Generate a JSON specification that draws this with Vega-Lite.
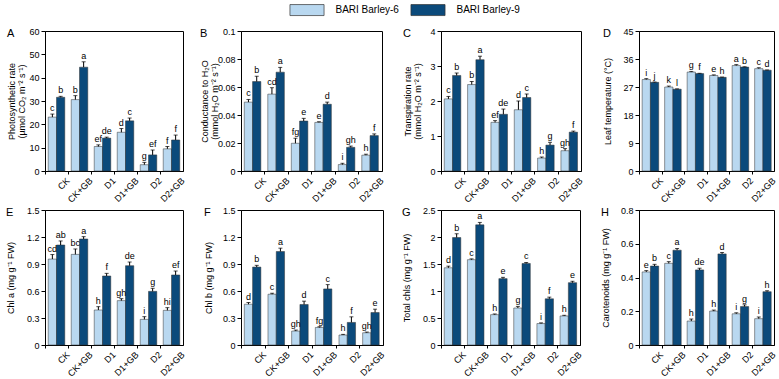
{
  "$schema": "https://vega.github.io/schema/vega-lite/v6.json",
  "background": "white",
  "padding": {"left": 5, "top": 4, "right": 0, "bottom": 0},
  "config": {
    "font": "Liberation Sans",
    "view": {"stroke": "#000", "strokeWidth": 1},
    "axis": {"domainColor": "#000", "tickColor": "#000", "labelColor": "#000", "titleColor": "#000", "labelFontSize": 9, "titleFontSize": 9, "titleFontWeight": "normal", "grid": false, "domainWidth": 1, "tickWidth": 1, "labelOverlap": false},
    "axisX": {"labelAngle": -45, "tickSize": 3, "bandPosition": 0, "labelPadding": 2},
    "axisY": {"tickSize": 4, "format": "~r", "labelPadding": 2, "titleLineHeight": 10},
    "title": {"fontSize": 11, "fontWeight": "normal", "anchor": "start", "frame": "bounds", "baseline": "top", "offset": -12, "color": "#000"},
    "legend": {"orient": "none", "direction": "horizontal", "legendX": 256, "legendY": -27, "padding": 0, "labelFontSize": 10, "labelColor": "#000", "symbolType": "M-3.1,-1H3.1V1H-3.1Z", "symbolSize": 121, "symbolStrokeColor": "#333", "symbolStrokeWidth": 0.7, "symbolOpacity": 1, "labelOffset": 22.5, "columnPadding": 10, "title": null},
    "text": {"fontSize": 9, "baseline": "bottom", "dy": -1, "color": "#000"}
  },
  "data": {"values": [
    {"p":"A","t":"CK","c":"BARI Barley-6","v":23.1,"hi":24.4,"s":"c"},
    {"p":"A","t":"CK","c":"BARI Barley-9","v":31.6,"hi":32.0,"s":"b"},
    {"p":"A","t":"CK+GB","c":"BARI Barley-6","v":30.6,"hi":32.3,"s":"b"},
    {"p":"A","t":"CK+GB","c":"BARI Barley-9","v":44.5,"hi":46.8,"s":"a"},
    {"p":"A","t":"D1","c":"BARI Barley-6","v":10.5,"hi":11.2,"s":"ef"},
    {"p":"A","t":"D1","c":"BARI Barley-9","v":14.1,"hi":14.5,"s":"de"},
    {"p":"A","t":"D1+GB","c":"BARI Barley-6","v":16.6,"hi":18.2,"s":"d"},
    {"p":"A","t":"D1+GB","c":"BARI Barley-9","v":21.5,"hi":22.7,"s":"c"},
    {"p":"A","t":"D2","c":"BARI Barley-6","v":2.7,"hi":3.7,"s":"g"},
    {"p":"A","t":"D2","c":"BARI Barley-9","v":6.9,"hi":9.0,"s":"ef"},
    {"p":"A","t":"D2+GB","c":"BARI Barley-6","v":9.5,"hi":10.5,"s":"f"},
    {"p":"A","t":"D2+GB","c":"BARI Barley-9","v":13.3,"hi":15.4,"s":"f"},

    {"p":"B","t":"CK","c":"BARI Barley-6","v":0.0492,"hi":0.0511,"s":"c"},
    {"p":"B","t":"CK","c":"BARI Barley-9","v":0.0639,"hi":0.0677,"s":"b"},
    {"p":"B","t":"CK+GB","c":"BARI Barley-6","v":0.0549,"hi":0.0595,"s":"cd"},
    {"p":"B","t":"CK+GB","c":"BARI Barley-9","v":0.0706,"hi":0.074,"s":"a"},
    {"p":"B","t":"D1","c":"BARI Barley-6","v":0.0198,"hi":0.0234,"s":"fg"},
    {"p":"B","t":"D1","c":"BARI Barley-9","v":0.0357,"hi":0.0376,"s":"e"},
    {"p":"B","t":"D1+GB","c":"BARI Barley-6","v":0.0347,"hi":0.0352,"s":"e"},
    {"p":"B","t":"D1+GB","c":"BARI Barley-9","v":0.0477,"hi":0.0492,"s":"d"},
    {"p":"B","t":"D2","c":"BARI Barley-6","v":0.0046,"hi":0.0055,"s":"i"},
    {"p":"B","t":"D2","c":"BARI Barley-9","v":0.0169,"hi":0.0178,"s":"gh"},
    {"p":"B","t":"D2+GB","c":"BARI Barley-6","v":0.0113,"hi":0.012,"s":"h"},
    {"p":"B","t":"D2+GB","c":"BARI Barley-9","v":0.0253,"hi":0.0265,"s":"f"},

    {"p":"C","t":"CK","c":"BARI Barley-6","v":2.06,"hi":2.13,"s":"c"},
    {"p":"C","t":"CK","c":"BARI Barley-9","v":2.73,"hi":2.80,"s":"b"},
    {"p":"C","t":"CK+GB","c":"BARI Barley-6","v":2.47,"hi":2.56,"s":"b"},
    {"p":"C","t":"CK+GB","c":"BARI Barley-9","v":3.18,"hi":3.28,"s":"a"},
    {"p":"C","t":"D1","c":"BARI Barley-6","v":1.39,"hi":1.44,"s":"ef"},
    {"p":"C","t":"D1","c":"BARI Barley-9","v":1.62,"hi":1.77,"s":"de"},
    {"p":"C","t":"D1+GB","c":"BARI Barley-6","v":1.75,"hi":2.0,"s":"d"},
    {"p":"C","t":"D1+GB","c":"BARI Barley-9","v":2.10,"hi":2.20,"s":"c"},
    {"p":"C","t":"D2","c":"BARI Barley-6","v":0.37,"hi":0.40,"s":"h"},
    {"p":"C","t":"D2","c":"BARI Barley-9","v":0.74,"hi":0.82,"s":"g"},
    {"p":"C","t":"D2+GB","c":"BARI Barley-6","v":0.58,"hi":0.64,"s":"gh"},
    {"p":"C","t":"D2+GB","c":"BARI Barley-9","v":1.11,"hi":1.14,"s":"f"},

    {"p":"D","t":"CK","c":"BARI Barley-6","v":29.4,"hi":29.7,"s":"i"},
    {"p":"D","t":"CK","c":"BARI Barley-9","v":28.5,"hi":28.6,"s":"j"},
    {"p":"D","t":"CK+GB","c":"BARI Barley-6","v":27.0,"hi":27.3,"s":"k"},
    {"p":"D","t":"CK+GB","c":"BARI Barley-9","v":26.3,"hi":26.4,"s":"l"},
    {"p":"D","t":"D1","c":"BARI Barley-6","v":31.8,"hi":32.0,"s":"g"},
    {"p":"D","t":"D1","c":"BARI Barley-9","v":31.3,"hi":31.4,"s":"f"},
    {"p":"D","t":"D1+GB","c":"BARI Barley-6","v":30.7,"hi":30.9,"s":"e"},
    {"p":"D","t":"D1+GB","c":"BARI Barley-9","v":30.1,"hi":30.2,"s":"h"},
    {"p":"D","t":"D2","c":"BARI Barley-6","v":33.9,"hi":34.2,"s":"a"},
    {"p":"D","t":"D2","c":"BARI Barley-9","v":33.4,"hi":33.5,"s":"b"},
    {"p":"D","t":"D2+GB","c":"BARI Barley-6","v":32.9,"hi":33.2,"s":"c"},
    {"p":"D","t":"D2+GB","c":"BARI Barley-9","v":32.4,"hi":32.5,"s":"d"},

    {"p":"E","t":"CK","c":"BARI Barley-6","v":0.955,"hi":1.005,"s":"cd"},
    {"p":"E","t":"CK","c":"BARI Barley-9","v":1.111,"hi":1.156,"s":"ab"},
    {"p":"E","t":"CK+GB","c":"BARI Barley-6","v":1.007,"hi":1.067,"s":"bc"},
    {"p":"E","t":"CK+GB","c":"BARI Barley-9","v":1.178,"hi":1.204,"s":"a"},
    {"p":"E","t":"D1","c":"BARI Barley-6","v":0.389,"hi":0.426,"s":"h"},
    {"p":"E","t":"D1","c":"BARI Barley-9","v":0.767,"hi":0.796,"s":"f"},
    {"p":"E","t":"D1+GB","c":"BARI Barley-6","v":0.493,"hi":0.515,"s":"gh"},
    {"p":"E","t":"D1+GB","c":"BARI Barley-9","v":0.881,"hi":0.922,"s":"de"},
    {"p":"E","t":"D2","c":"BARI Barley-6","v":0.285,"hi":0.315,"s":"i"},
    {"p":"E","t":"D2","c":"BARI Barley-9","v":0.596,"hi":0.63,"s":"g"},
    {"p":"E","t":"D2+GB","c":"BARI Barley-6","v":0.385,"hi":0.415,"s":"hi"},
    {"p":"E","t":"D2+GB","c":"BARI Barley-9","v":0.778,"hi":0.822,"s":"ef"},

    {"p":"F","t":"CK","c":"BARI Barley-6","v":0.453,"hi":0.472,"s":"d"},
    {"p":"F","t":"CK","c":"BARI Barley-9","v":0.866,"hi":0.885,"s":"b"},
    {"p":"F","t":"CK+GB","c":"BARI Barley-6","v":0.564,"hi":0.576,"s":"c"},
    {"p":"F","t":"CK+GB","c":"BARI Barley-9","v":1.039,"hi":1.076,"s":"a"},
    {"p":"F","t":"D1","c":"BARI Barley-6","v":0.155,"hi":0.166,"s":"gh"},
    {"p":"F","t":"D1","c":"BARI Barley-9","v":0.45,"hi":0.487,"s":"d"},
    {"p":"F","t":"D1+GB","c":"BARI Barley-6","v":0.195,"hi":0.203,"s":"fg"},
    {"p":"F","t":"D1+GB","c":"BARI Barley-9","v":0.623,"hi":0.671,"s":"c"},
    {"p":"F","t":"D2","c":"BARI Barley-6","v":0.111,"hi":0.118,"s":"h"},
    {"p":"F","t":"D2","c":"BARI Barley-9","v":0.251,"hi":0.313,"s":"f"},
    {"p":"F","t":"D2+GB","c":"BARI Barley-6","v":0.136,"hi":0.144,"s":"gh"},
    {"p":"F","t":"D2+GB","c":"BARI Barley-9","v":0.361,"hi":0.398,"s":"e"},

    {"p":"G","t":"CK","c":"BARI Barley-6","v":1.43,"hi":1.46,"s":"d"},
    {"p":"G","t":"CK","c":"BARI Barley-9","v":1.99,"hi":2.06,"s":"b"},
    {"p":"G","t":"CK+GB","c":"BARI Barley-6","v":1.58,"hi":1.595,"s":"c"},
    {"p":"G","t":"CK+GB","c":"BARI Barley-9","v":2.225,"hi":2.27,"s":"a"},
    {"p":"G","t":"D1","c":"BARI Barley-6","v":0.562,"hi":0.575,"s":"h"},
    {"p":"G","t":"D1","c":"BARI Barley-9","v":1.229,"hi":1.253,"s":"e"},
    {"p":"G","t":"D1+GB","c":"BARI Barley-6","v":0.685,"hi":0.715,"s":"g"},
    {"p":"G","t":"D1+GB","c":"BARI Barley-9","v":1.51,"hi":1.528,"s":"c"},
    {"p":"G","t":"D2","c":"BARI Barley-6","v":0.397,"hi":0.41,"s":"i"},
    {"p":"G","t":"D2","c":"BARI Barley-9","v":0.856,"hi":0.886,"s":"f"},
    {"p":"G","t":"D2+GB","c":"BARI Barley-6","v":0.538,"hi":0.55,"s":"h"},
    {"p":"G","t":"D2+GB","c":"BARI Barley-9","v":1.155,"hi":1.18,"s":"e"},

    {"p":"H","t":"CK","c":"BARI Barley-6","v":0.433,"hi":0.441,"s":"e"},
    {"p":"H","t":"CK","c":"BARI Barley-9","v":0.468,"hi":0.478,"s":"b"},
    {"p":"H","t":"CK+GB","c":"BARI Barley-6","v":0.484,"hi":0.494,"s":"c"},
    {"p":"H","t":"CK+GB","c":"BARI Barley-9","v":0.562,"hi":0.572,"s":"a"},
    {"p":"H","t":"D1","c":"BARI Barley-6","v":0.142,"hi":0.154,"s":"h"},
    {"p":"H","t":"D1","c":"BARI Barley-9","v":0.445,"hi":0.455,"s":"de"},
    {"p":"H","t":"D1+GB","c":"BARI Barley-6","v":0.201,"hi":0.207,"s":"h"},
    {"p":"H","t":"D1+GB","c":"BARI Barley-9","v":0.54,"hi":0.548,"s":"d"},
    {"p":"H","t":"D2","c":"BARI Barley-6","v":0.185,"hi":0.191,"s":"i"},
    {"p":"H","t":"D2","c":"BARI Barley-9","v":0.228,"hi":0.238,"s":"g"},
    {"p":"H","t":"D2+GB","c":"BARI Barley-6","v":0.156,"hi":0.166,"s":"i"},
    {"p":"H","t":"D2+GB","c":"BARI Barley-9","v":0.316,"hi":0.322,"s":"h"}
  ]},
  "columns": 4,
  "bounds": "flush",
  "align": "none",
  "spacing": {"row": 39, "column": 58},
  "resolve": {"scale": {"color": "shared"}, "legend": {"color": "shared"}},
  "concat": [
    {
      "width": 138, "height": 140,
      "title": "A",
      "transform": [{"filter": "datum.p === 'A'"}],
      "resolve": {"axis": {"y": "independent"}},
      "encoding": {
        "x": {"field": "t", "type": "nominal", "sort": ["CK","CK+GB","D1","D1+GB","D2","D2+GB"], "scale": {"paddingInner": 0.28, "paddingOuter": 0.14}, "axis": {"title": null, "tickOffset": -3.2, "labelOffset": 11.5}},
        "xOffset": {"field": "c", "type": "nominal", "scale": {"paddingInner": 0, "paddingOuter": 0}}
      },
      "layer": [
        {"mark": {"type": "bar", "stroke": "#333", "strokeWidth": 0.5},
         "encoding": {"y": {"field": "v", "type": "quantitative", "scale": {"domain": [0, 60], "nice": false}, "axis": {"values": [0,10,20,30,40,50,60], "tickCount": 20, "title": ["Photosynthetic rate", "(µmol CO₂ m⁻² s⁻¹)"], "minExtent": 16, "maxExtent": 16, "titlePadding": 3}},
                      "color": {"field": "c", "type": "nominal", "scale": {"domain": ["BARI Barley-6","BARI Barley-9"], "range": ["#b9d8f0","#0b4a7b"]}}}},
        {"mark": {"type": "rule", "color": "#000", "strokeWidth": 1}, "encoding": {"y": {"field": "v", "type": "quantitative", "scale": {"domain": [0, 60], "nice": false}, "axis": null}, "y2": {"field": "hi"}}},
        {"mark": {"type": "tick", "color": "#000", "thickness": 1, "size": 4}, "encoding": {"y": {"field": "hi", "type": "quantitative", "scale": {"domain": [0, 60], "nice": false}, "axis": null}}},
        {"mark": {"type": "text"}, "encoding": {"y": {"field": "hi", "type": "quantitative", "scale": {"domain": [0, 60], "nice": false}, "axis": null}, "text": {"field": "s"}}}
      ]
    },
    {
      "width": 141, "height": 140,
      "title": "B",
      "transform": [{"filter": "datum.p === 'B'"}],
      "resolve": {"axis": {"y": "independent"}},
      "encoding": {
        "x": {"field": "t", "type": "nominal", "sort": ["CK","CK+GB","D1","D1+GB","D2","D2+GB"], "scale": {"paddingInner": 0.28, "paddingOuter": 0.14}, "axis": {"title": null, "tickOffset": -3.3, "labelOffset": 11.75}},
        "xOffset": {"field": "c", "type": "nominal", "scale": {"paddingInner": 0, "paddingOuter": 0}}
      },
      "layer": [
        {"mark": {"type": "bar", "stroke": "#333", "strokeWidth": 0.5},
         "encoding": {"y": {"field": "v", "type": "quantitative", "scale": {"domain": [0, 0.1], "nice": false}, "axis": {"values": [0,0.02,0.04,0.06,0.08,0.1], "tickCount": 20, "title": ["Conductance to H₂O", "(mmol H₂O m⁻² s⁻¹)"], "minExtent": 22, "maxExtent": 22, "titlePadding": 0}},
                      "color": {"field": "c", "type": "nominal", "scale": {"domain": ["BARI Barley-6","BARI Barley-9"], "range": ["#b9d8f0","#0b4a7b"]}}}},
        {"mark": {"type": "rule", "color": "#000", "strokeWidth": 1}, "encoding": {"y": {"field": "v", "type": "quantitative", "scale": {"domain": [0, 0.1], "nice": false}, "axis": null}, "y2": {"field": "hi"}}},
        {"mark": {"type": "tick", "color": "#000", "thickness": 1, "size": 4}, "encoding": {"y": {"field": "hi", "type": "quantitative", "scale": {"domain": [0, 0.1], "nice": false}, "axis": null}}},
        {"mark": {"type": "text"}, "encoding": {"y": {"field": "hi", "type": "quantitative", "scale": {"domain": [0, 0.1], "nice": false}, "axis": null}, "text": {"field": "s"}}}
      ]
    },
    {
      "width": 140, "height": 140,
      "title": "C",
      "transform": [{"filter": "datum.p === 'C'"}],
      "resolve": {"axis": {"y": "independent"}},
      "encoding": {
        "x": {"field": "t", "type": "nominal", "sort": ["CK","CK+GB","D1","D1+GB","D2","D2+GB"], "scale": {"paddingInner": 0.28, "paddingOuter": 0.14}, "axis": {"title": null, "tickOffset": -3.27, "labelOffset": 11.67}},
        "xOffset": {"field": "c", "type": "nominal", "scale": {"paddingInner": 0, "paddingOuter": 0}}
      },
      "layer": [
        {"mark": {"type": "bar", "stroke": "#333", "strokeWidth": 0.5},
         "encoding": {"y": {"field": "v", "type": "quantitative", "scale": {"domain": [0, 4], "nice": false}, "axis": {"values": [0,1,2,3,4], "tickCount": 20, "title": ["Transpiration rate", "(mmol H₂O m⁻² s⁻¹)"], "minExtent": 16, "maxExtent": 16, "titlePadding": 3}},
                      "color": {"field": "c", "type": "nominal", "scale": {"domain": ["BARI Barley-6","BARI Barley-9"], "range": ["#b9d8f0","#0b4a7b"]}}}},
        {"mark": {"type": "rule", "color": "#000", "strokeWidth": 1}, "encoding": {"y": {"field": "v", "type": "quantitative", "scale": {"domain": [0, 4], "nice": false}, "axis": null}, "y2": {"field": "hi"}}},
        {"mark": {"type": "tick", "color": "#000", "thickness": 1, "size": 4}, "encoding": {"y": {"field": "hi", "type": "quantitative", "scale": {"domain": [0, 4], "nice": false}, "axis": null}}},
        {"mark": {"type": "text"}, "encoding": {"y": {"field": "hi", "type": "quantitative", "scale": {"domain": [0, 4], "nice": false}, "axis": null}, "text": {"field": "s"}}}
      ]
    },
    {
      "width": 135, "height": 140,
      "title": "D",
      "transform": [{"filter": "datum.p === 'D'"}],
      "resolve": {"axis": {"y": "independent"}},
      "encoding": {
        "x": {"field": "t", "type": "nominal", "sort": ["CK","CK+GB","D1","D1+GB","D2","D2+GB"], "scale": {"paddingInner": 0.28, "paddingOuter": 0.14}, "axis": {"title": null, "tickOffset": -3.15, "labelOffset": 11.25}},
        "xOffset": {"field": "c", "type": "nominal", "scale": {"paddingInner": 0, "paddingOuter": 0}}
      },
      "layer": [
        {"mark": {"type": "bar", "stroke": "#333", "strokeWidth": 0.5},
         "encoding": {"y": {"field": "v", "type": "quantitative", "scale": {"domain": [0, 45], "nice": false}, "axis": {"values": [0,9,18,27,36,45], "tickCount": 20, "title": "Leaf temperature (°C)", "minExtent": 24, "maxExtent": 24, "titlePadding": 3}},
                      "color": {"field": "c", "type": "nominal", "scale": {"domain": ["BARI Barley-6","BARI Barley-9"], "range": ["#b9d8f0","#0b4a7b"]}}}},
        {"mark": {"type": "rule", "color": "#000", "strokeWidth": 1}, "encoding": {"y": {"field": "v", "type": "quantitative", "scale": {"domain": [0, 45], "nice": false}, "axis": null}, "y2": {"field": "hi"}}},
        {"mark": {"type": "tick", "color": "#000", "thickness": 1, "size": 4}, "encoding": {"y": {"field": "hi", "type": "quantitative", "scale": {"domain": [0, 45], "nice": false}, "axis": null}}},
        {"mark": {"type": "text"}, "encoding": {"y": {"field": "hi", "type": "quantitative", "scale": {"domain": [0, 45], "nice": false}, "axis": null}, "text": {"field": "s"}}}
      ]
    },
    {
      "width": 138, "height": 135,
      "title": "E",
      "transform": [{"filter": "datum.p === 'E'"}],
      "resolve": {"axis": {"y": "independent"}},
      "encoding": {
        "x": {"field": "t", "type": "nominal", "sort": ["CK","CK+GB","D1","D1+GB","D2","D2+GB"], "scale": {"paddingInner": 0.28, "paddingOuter": 0.14}, "axis": {"title": null, "tickOffset": -3.2, "labelOffset": 11.5}},
        "xOffset": {"field": "c", "type": "nominal", "scale": {"paddingInner": 0, "paddingOuter": 0}}
      },
      "layer": [
        {"mark": {"type": "bar", "stroke": "#333", "strokeWidth": 0.5},
         "encoding": {"y": {"field": "v", "type": "quantitative", "scale": {"domain": [0, 1.5], "nice": false}, "axis": {"values": [0,0.3,0.6,0.9,1.2,1.5], "tickCount": 20, "title": "Chl a (mg g⁻¹ FW)", "minExtent": 27, "maxExtent": 27, "titlePadding": 3}},
                      "color": {"field": "c", "type": "nominal", "scale": {"domain": ["BARI Barley-6","BARI Barley-9"], "range": ["#b9d8f0","#0b4a7b"]}}}},
        {"mark": {"type": "rule", "color": "#000", "strokeWidth": 1}, "encoding": {"y": {"field": "v", "type": "quantitative", "scale": {"domain": [0, 1.5], "nice": false}, "axis": null}, "y2": {"field": "hi"}}},
        {"mark": {"type": "tick", "color": "#000", "thickness": 1, "size": 4}, "encoding": {"y": {"field": "hi", "type": "quantitative", "scale": {"domain": [0, 1.5], "nice": false}, "axis": null}}},
        {"mark": {"type": "text"}, "encoding": {"y": {"field": "hi", "type": "quantitative", "scale": {"domain": [0, 1.5], "nice": false}, "axis": null}, "text": {"field": "s"}}}
      ]
    },
    {
      "width": 142, "height": 135,
      "title": "F",
      "transform": [{"filter": "datum.p === 'F'"}],
      "resolve": {"axis": {"y": "independent"}},
      "encoding": {
        "x": {"field": "t", "type": "nominal", "sort": ["CK","CK+GB","D1","D1+GB","D2","D2+GB"], "scale": {"paddingInner": 0.28, "paddingOuter": 0.14}, "axis": {"title": null, "tickOffset": -3.3, "labelOffset": 11.8}},
        "xOffset": {"field": "c", "type": "nominal", "scale": {"paddingInner": 0, "paddingOuter": 0}}
      },
      "layer": [
        {"mark": {"type": "bar", "stroke": "#333", "strokeWidth": 0.5},
         "encoding": {"y": {"field": "v", "type": "quantitative", "scale": {"domain": [0, 1.5], "nice": false}, "axis": {"values": [0,0.3,0.6,0.9,1.2,1.5], "tickCount": 20, "title": "Chl b (mg g⁻¹ FW)", "minExtent": 25, "maxExtent": 25, "titlePadding": 3}},
                      "color": {"field": "c", "type": "nominal", "scale": {"domain": ["BARI Barley-6","BARI Barley-9"], "range": ["#b9d8f0","#0b4a7b"]}}}},
        {"mark": {"type": "rule", "color": "#000", "strokeWidth": 1}, "encoding": {"y": {"field": "v", "type": "quantitative", "scale": {"domain": [0, 1.5], "nice": false}, "axis": null}, "y2": {"field": "hi"}}},
        {"mark": {"type": "tick", "color": "#000", "thickness": 1, "size": 4}, "encoding": {"y": {"field": "hi", "type": "quantitative", "scale": {"domain": [0, 1.5], "nice": false}, "axis": null}}},
        {"mark": {"type": "text"}, "encoding": {"y": {"field": "hi", "type": "quantitative", "scale": {"domain": [0, 1.5], "nice": false}, "axis": null}, "text": {"field": "s"}}}
      ]
    },
    {
      "width": 139, "height": 135,
      "title": "G",
      "transform": [{"filter": "datum.p === 'G'"}],
      "resolve": {"axis": {"y": "independent"}},
      "encoding": {
        "x": {"field": "t", "type": "nominal", "sort": ["CK","CK+GB","D1","D1+GB","D2","D2+GB"], "scale": {"paddingInner": 0.28, "paddingOuter": 0.14}, "axis": {"title": null, "tickOffset": -3.24, "labelOffset": 11.6}},
        "xOffset": {"field": "c", "type": "nominal", "scale": {"paddingInner": 0, "paddingOuter": 0}}
      },
      "layer": [
        {"mark": {"type": "bar", "stroke": "#333", "strokeWidth": 0.5},
         "encoding": {"y": {"field": "v", "type": "quantitative", "scale": {"domain": [0, 2.5], "nice": false}, "axis": {"values": [0,0.5,1,1.5,2,2.5], "tickCount": 20, "title": "Total chls (mg g⁻¹ FW)", "minExtent": 27, "maxExtent": 27, "titlePadding": 3}},
                      "color": {"field": "c", "type": "nominal", "scale": {"domain": ["BARI Barley-6","BARI Barley-9"], "range": ["#b9d8f0","#0b4a7b"]}}}},
        {"mark": {"type": "rule", "color": "#000", "strokeWidth": 1}, "encoding": {"y": {"field": "v", "type": "quantitative", "scale": {"domain": [0, 2.5], "nice": false}, "axis": null}, "y2": {"field": "hi"}}},
        {"mark": {"type": "tick", "color": "#000", "thickness": 1, "size": 4}, "encoding": {"y": {"field": "hi", "type": "quantitative", "scale": {"domain": [0, 2.5], "nice": false}, "axis": null}}},
        {"mark": {"type": "text"}, "encoding": {"y": {"field": "hi", "type": "quantitative", "scale": {"domain": [0, 2.5], "nice": false}, "axis": null}, "text": {"field": "s"}}}
      ]
    },
    {
      "width": 135, "height": 135,
      "title": "H",
      "transform": [{"filter": "datum.p === 'H'"}],
      "resolve": {"axis": {"y": "independent"}},
      "encoding": {
        "x": {"field": "t", "type": "nominal", "sort": ["CK","CK+GB","D1","D1+GB","D2","D2+GB"], "scale": {"paddingInner": 0.28, "paddingOuter": 0.14}, "axis": {"title": null, "tickOffset": -3.15, "labelOffset": 11.25}},
        "xOffset": {"field": "c", "type": "nominal", "scale": {"paddingInner": 0, "paddingOuter": 0}}
      },
      "layer": [
        {"mark": {"type": "bar", "stroke": "#333", "strokeWidth": 0.5},
         "encoding": {"y": {"field": "v", "type": "quantitative", "scale": {"domain": [0, 0.8], "nice": false}, "axis": {"values": [0,0.2,0.4,0.6,0.8], "tickCount": 20, "title": "Carotenoids (mg g⁻¹ FW)", "minExtent": 26, "maxExtent": 26, "titlePadding": 3}},
                      "color": {"field": "c", "type": "nominal", "scale": {"domain": ["BARI Barley-6","BARI Barley-9"], "range": ["#b9d8f0","#0b4a7b"]}}}},
        {"mark": {"type": "rule", "color": "#000", "strokeWidth": 1}, "encoding": {"y": {"field": "v", "type": "quantitative", "scale": {"domain": [0, 0.8], "nice": false}, "axis": null}, "y2": {"field": "hi"}}},
        {"mark": {"type": "tick", "color": "#000", "thickness": 1, "size": 4}, "encoding": {"y": {"field": "hi", "type": "quantitative", "scale": {"domain": [0, 0.8], "nice": false}, "axis": null}}},
        {"mark": {"type": "text"}, "encoding": {"y": {"field": "hi", "type": "quantitative", "scale": {"domain": [0, 0.8], "nice": false}, "axis": null}, "text": {"field": "s"}}}
      ]
    }
  ]
}
